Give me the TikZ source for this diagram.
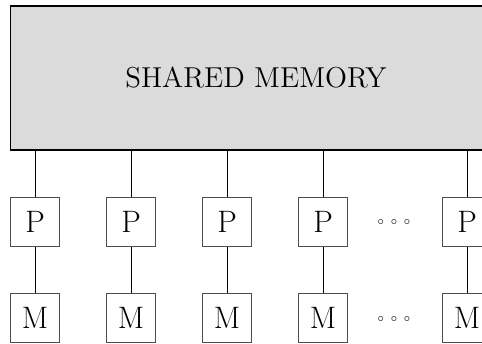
\documentclass[tikz,border=0pt]{standalone}
\usepackage{amsmath,amssymb}
\begin{document}
\begin{tikzpicture}[x=0.5pt,y=-0.5pt]
		\tikzstyle{every node}+=[inner sep=0pt]
		\tikzstyle{unit}=[draw=black!70, line width=0.45pt, minimum size=24.3pt, font=\fontsize{15.5}{18}\selectfont]
		\tikzstyle{link}=[black, line width=0.4pt]
		\useasboundingbox (0,0) rectangle (482,343);
		\clip (0,0) rectangle (482,343);
		\node [draw=black, line width=0.7pt, fill=black!14, minimum width=245.5pt, minimum height=72pt, font=\fontsize{14.4}{17}\selectfont] (mem) at (256,78) {SHARED MEMORY};
		\node [unit] (p1) at (35,222) {P};
		\node [unit] (p2) at (131,222) {P};
		\node [unit] (p3) at (227,222) {P};
		\node [unit] (p4) at (323,222) {P};
		\node [unit] (pn) at (467,222) {P};
		\node [unit] (m1) at (35,318) {M};
		\node [unit] (m2) at (131,318) {M};
		\node [unit] (m3) at (227,318) {M};
		\node [unit] (m4) at (323,318) {M};
		\node [unit] (mn) at (467,318) {M};
		\node (pdots) at (394,222.5) {\tiny$\circ\,\circ\,\circ$};
		\node (mdots) at (394,319) {\tiny$\circ\,\circ\,\circ$};
		\draw [link] (p1 |- mem.south) -- (p1);
		\draw [link] (p2 |- mem.south) -- (p2);
		\draw [link] (p3 |- mem.south) -- (p3);
		\draw [link] (p4 |- mem.south) -- (p4);
		\draw [link] (pn |- mem.south) -- (pn);
		\draw [link] (p1) -- (m1);
		\draw [link] (p2) -- (m2);
		\draw [link] (p3) -- (m3);
		\draw [link] (p4) -- (m4);
		\draw [link] (pn) -- (mn);
\end{tikzpicture}
\end{document}
